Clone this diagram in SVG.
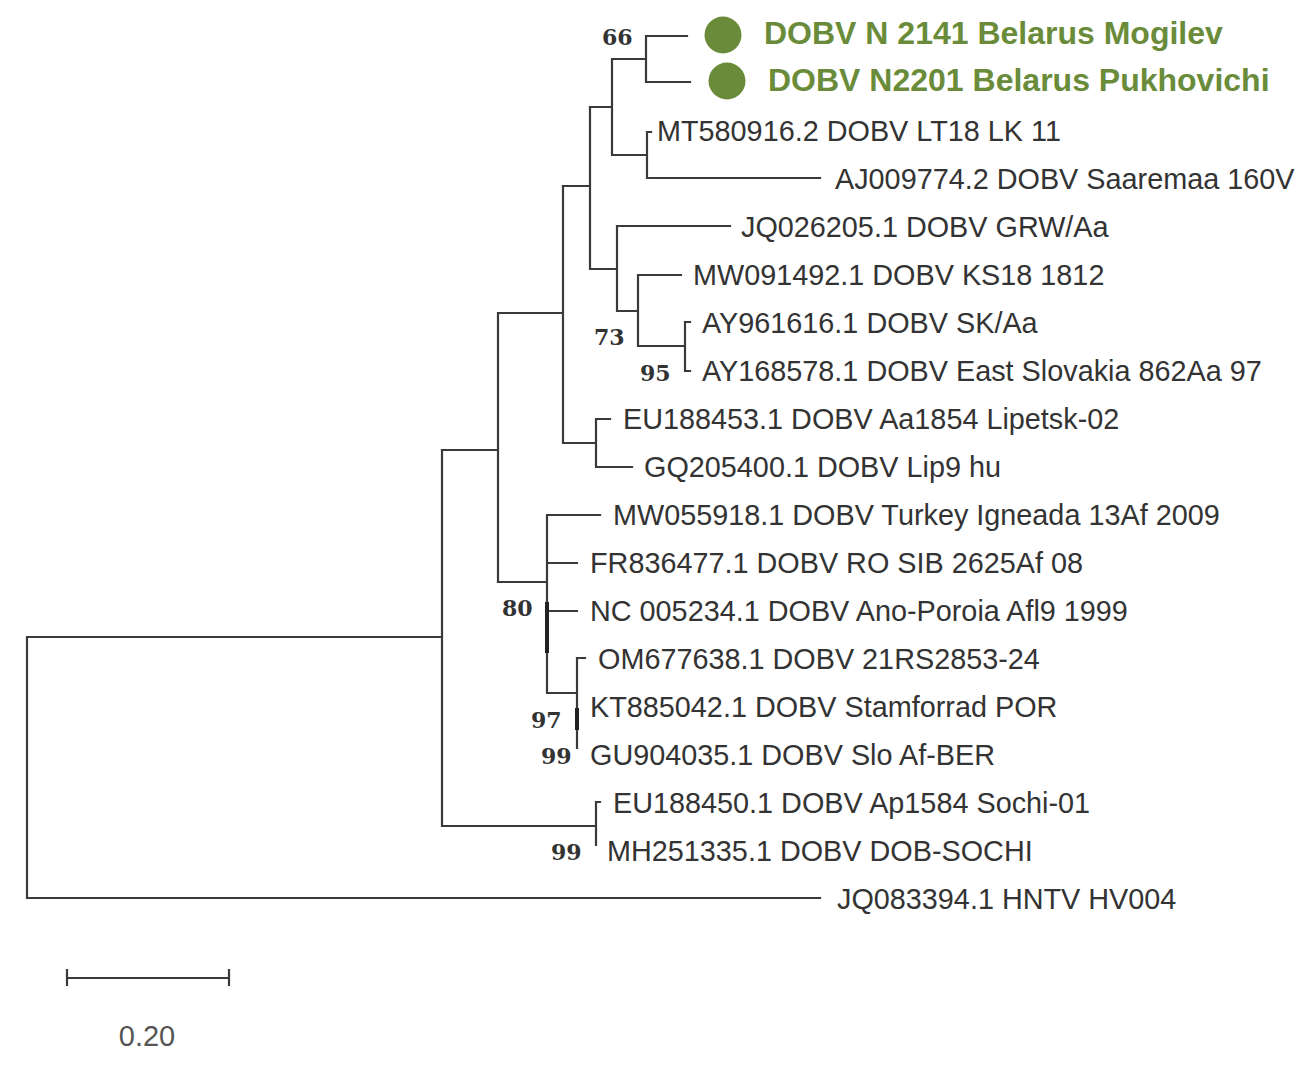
<svg xmlns="http://www.w3.org/2000/svg" width="1311" height="1069" viewBox="0 0 1311 1069">
<style>
.br{fill:none;stroke:#3a3a3a;stroke-width:2.2;stroke-linecap:square}
.thick{fill:none;stroke:#222;stroke-width:4}
.lab{font-family:"Liberation Sans",Arial,sans-serif;font-size:28.8px;fill:#333}
.hl{font-family:"Liberation Sans",Arial,sans-serif;font-size:32px;font-weight:bold;fill:#6a8c3a}
.bs{font-family:"DejaVu Serif",serif;font-size:22px;font-weight:bold;fill:#333}
.dot{fill:#6a8c3a}
.sc{font-family:"Liberation Sans",Arial,sans-serif;font-size:29px;fill:#555}
</style>
<rect width="1311" height="1069" fill="#fff"/>
<g id="connectors">
<path class="br" d="M27 637 V898 H820 M27 637 H442 M442 450 V826 H596 M596 802 V845 M596 802 H600"/>
<path class="br" d="M442 450 H498 M498 313 V582 M498 313 H563 M563 186 V443 H596 M596 419 V467 M596 419 H610 M596 467 H632"/>
<path class="br" d="M563 186 H590 M590 107 V269 H617 M617 226 V311 H638 M617 226 H730 M638 275 V346 H685 M638 275 H681 M685 322 V371 M685 322 H690 M685 371 H690"/>
<path class="br" d="M590 107 H612 M612 59 V155 H647 M612 59 H646 M646 36 V82 M646 36 H687 M646 82 H690 M647 132 V178 M647 132 H651 M647 178 H820"/>
<path class="br" d="M498 582 H547 M547 515 V693 H577 M547 515 H600 M547 563 H577 M547 611 H577 M577 658 V748 M577 658 H585"/>
<path class="thick" d="M547 602 V653 M577 708 V730"/>
</g>
<g id="node-mogilev"><ellipse class="dot" cx="723" cy="35" rx="18.5" ry="18.5"/><text class="hl" x="764" y="44">DOBV N 2141 Belarus Mogilev</text></g>
<g id="node-pukhovichi"><ellipse class="dot" cx="727" cy="81" rx="18.5" ry="18.5"/><text class="hl" x="768" y="91">DOBV N2201 Belarus Pukhovichi</text></g>
<g id="node-mt580916"><text class="lab" x="657" y="141">MT580916.2 DOBV LT18 LK 11</text></g>
<g id="node-aj009774"><text class="lab" x="835" y="189">AJ009774.2 DOBV Saaremaa 160V</text></g>
<g id="node-jq026205"><text class="lab" x="741" y="237">JQ026205.1 DOBV GRW/Aa</text></g>
<g id="node-mw091492"><text class="lab" x="693" y="285">MW091492.1 DOBV KS18 1812</text></g>
<g id="node-ay961616"><text class="lab" x="702" y="333">AY961616.1 DOBV SK/Aa</text></g>
<g id="node-ay168578"><text class="lab" x="702" y="381">AY168578.1 DOBV East Slovakia 862Aa 97</text></g>
<g id="node-eu188453"><text class="lab" x="623" y="429">EU188453.1 DOBV Aa1854 Lipetsk-02</text></g>
<g id="node-gq205400"><text class="lab" x="644" y="477">GQ205400.1 DOBV Lip9 hu</text></g>
<g id="node-mw055918"><text class="lab" x="613" y="525">MW055918.1 DOBV Turkey Igneada 13Af 2009</text></g>
<g id="node-fr836477"><text class="lab" x="590" y="573">FR836477.1 DOBV RO SIB 2625Af 08</text></g>
<g id="node-nc005234"><text class="lab" x="590" y="621">NC 005234.1 DOBV Ano-Poroia Afl9 1999</text></g>
<g id="node-om677638"><text class="lab" x="598" y="669">OM677638.1 DOBV 21RS2853-24</text></g>
<g id="node-kt885042"><text class="lab" x="590" y="717">KT885042.1 DOBV Stamforrad POR</text></g>
<g id="node-gu904035"><text class="lab" x="590" y="765">GU904035.1 DOBV Slo Af-BER</text></g>
<g id="node-eu188450"><text class="lab" x="613" y="813">EU188450.1 DOBV Ap1584 Sochi-01</text></g>
<g id="node-mh251335"><text class="lab" x="607" y="861">MH251335.1 DOBV DOB-SOCHI</text></g>
<g id="node-jq083394"><text class="lab" x="837" y="909">JQ083394.1 HNTV HV004</text></g>
<g id="bootstrap">
<text class="bs" x="602" y="45">66</text>
<text class="bs" x="594" y="345">73</text>
<text class="bs" x="640" y="381">95</text>
<text class="bs" x="502" y="616">80</text>
<text class="bs" x="531" y="728">97</text>
<text class="bs" x="541" y="764">99</text>
<text class="bs" x="551" y="860">99</text>
</g>
<g id="scale">
<path class="br" d="M67 978 H229 M67 970 V985 M229 970 V985"/>
<text class="sc" x="147" y="1046" text-anchor="middle">0.20</text>
</g>
</svg>
